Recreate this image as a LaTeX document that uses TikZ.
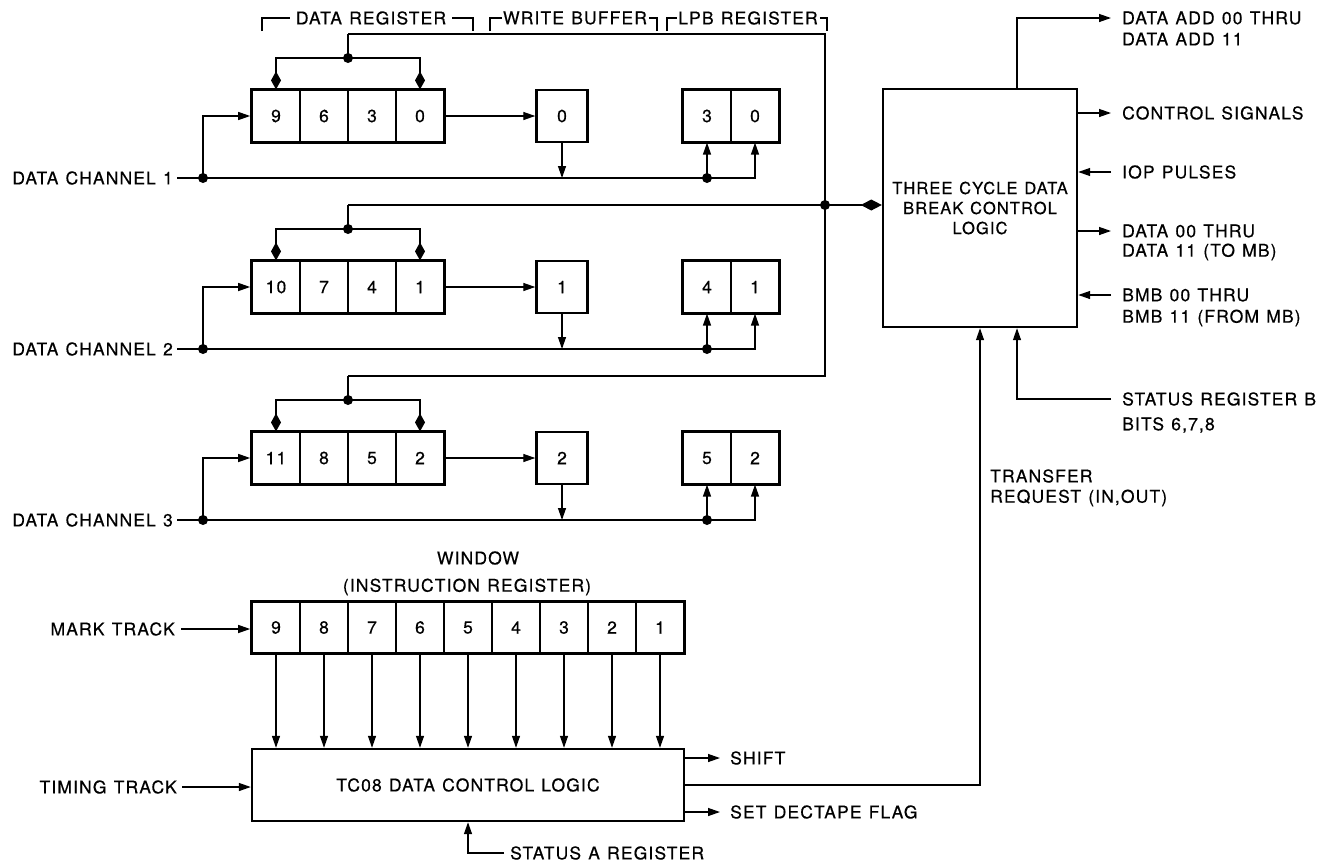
\documentclass[tikz,border=0pt]{standalone}
\usepackage{fontspec}
\setmainfont{TeX Gyre Heros}[LetterSpace=6.5,WordSpace=1.2,FakeBold=0.5]
\usetikzlibrary{arrows.meta,fit}
\begin{document}
\begin{tikzpicture}[x=1pt,y=-1pt,
  font=\fontsize{17.5}{20}\selectfont,
  cell/.style={draw,line width=1.2pt,minimum width=48pt,minimum height=52pt,inner sep=0pt},
  frame/.style={draw,line width=2.4pt,inner sep=0pt},
  wire/.style={line width=1.3pt},
  arr/.style={wire,-{Triangle[length=12pt,width=8pt]}},
  dia/.style={wire,-{Diamond[length=18pt,width=10pt]}},
  bigdia/.style={wire,-{Diamond[length=21pt,width=11pt]}},
  lbl/.style={inner sep=0pt},
  dot/.style={circle,fill,inner sep=0pt,minimum size=10pt},
]
\useasboundingbox (0,0) rectangle (1319,865);

% ---------- header brackets ----------
\node[lbl] (hdr) at (371,18) {DATA REGISTER};
\node[lbl] (hwb) at (575,18) {WRITE BUFFER};
\node[lbl] (hlp) at (748,18) {LPB REGISTER};
\coordinate (hdrL) at (262,31); \coordinate (hdrR) at (473,31);
\coordinate (hwbL) at (490,31); \coordinate (hwbR) at (657,31);
\coordinate (hlpL) at (667,31); \coordinate (hlpR) at (827,31);
\draw[wire] (hdrL) |- ([xshift=-6pt]hdr.west);
\draw[wire] ([xshift=6pt]hdr.east) -| (hdrR);
\draw[wire] (hwbL) |- ([xshift=-1pt]hwb.west);
\draw[wire] ([xshift=2pt]hwb.east) -| (hwbR);
\draw[wire] (hlpL) |- ([xshift=-1pt]hlp.west);
\draw[wire] ([xshift=2pt]hlp.east) -| (hlpR);

% ---------- three cycle data break control logic ----------
\node[frame,minimum width=194pt,minimum height=238pt,align=center,
  font=\fontsize{16.5}{20}\selectfont] (cb) at (980,208)
  {THREE CYCLE DATA\\BREAK CONTROL\\LOGIC};

% ---------- data channels ----------
\foreach \k/\a/\b/\c/\d/\yc in {1/9/6/3/0/116, 2/10/7/4/1/287, 3/11/8/5/2/458}{
  \node[cell] (r\k a) at (276,\yc) {\a};
  \node[cell] (r\k b) at (324,\yc) {\b};
  \node[cell] (r\k c) at (372,\yc) {\c};
  \node[cell] (r\k d) at (420,\yc) {\d};
  \node[frame,fit=(r\k a)(r\k d)] (r\k) {};
  \node[cell,line width=2.4pt,minimum width=51pt] (w\k) at (562,\yc) {\d};
  \node[cell] (l\k a) at (707,\yc) {\c};
  \node[cell] (l\k b) at (755,\yc) {\d};
  \node[frame,fit=(l\k a)(l\k b)] (l\k) {};
  \node[lbl,anchor=east] (dc\k) at (173,\yc+62) {DATA CHANNEL \k};
  \node[dot] (p\k) at (203,\yc+62) {};
  \coordinate (q\k) at (562,\yc+62);
  \node[dot] (s\k) at (707,\yc+62) {};
  \draw[arr] ([xshift=4pt]dc\k.east) -- (p\k.center) -- (s\k.center) -| (l\k b.south);
  \draw[arr] (s\k.center) -- (l\k a.south);
  \draw[arr] (p\k.center) |- (r\k.west);
  \draw[arr] (w\k.south) -- (q\k);
  \draw[arr] (r\k.east) -- (w\k.west);
  \node[dot] (tm\k) at (348,\yc-58) {};
  \draw[dia] (tm\k.center) -| (r\k a.north);
  \draw[dia] (tm\k.center) -| (r\k d.north);
  \coordinate (u\k) at (348,\yc-82);
  \draw[wire] (tm\k.center) -- (u\k);
}
\coordinate (v3) at (825,376);
\node[dot] (v2) at (825,205) {};
\draw[wire] (u1) -| (v3) -- (u3);
\draw[wire] (u2) -- (v2.center);
\draw[bigdia] (v2.center) -- (v2 -| cb.west);

% ---------- right side signals ----------
\node[lbl,anchor=west] (da1) at (1122,18) {DATA ADD 00 THRU};
\node[lbl,anchor=west] (da2) at (1122,39) {DATA ADD 11};
\draw[arr] ([xshift=37pt]cb.north) |- ([xshift=-11pt]da1.west);
\node[lbl,anchor=west] (cs) at (1122,113) {CONTROL SIGNALS};
\draw[arr] (cb.east |- cs) -- ([xshift=-11pt]cs.west);
\node[lbl,anchor=west] (iop) at (1122,172) {IOP PULSES};
\draw[arr] ([xshift=-11pt]iop.west) -- (cb.east |- iop);
\node[lbl,anchor=west] (dd1) at (1122,231) {DATA 00 THRU};
\node[lbl,anchor=west] (dd2) at (1122,252) {DATA 11 (TO MB)};
\draw[arr] (cb.east |- dd1) -- ([xshift=-11pt]dd1.west);
\node[lbl,anchor=west] (bm1) at (1122,295) {BMB 00 THRU};
\node[lbl,anchor=west] (bm2) at (1122,318) {BMB 11 (FROM MB)};
\draw[arr] ([xshift=-11pt]bm1.west) -- (cb.east |- bm1);
\node[lbl,anchor=west] (sb1) at (1122,399) {STATUS REGISTER B};
\node[lbl,anchor=west] (sb2) at (1122,425) {BITS 6,7,8};
\draw[arr] ([xshift=-11pt]sb1.west) -| ([xshift=37pt]cb.south);
\node[lbl,anchor=west] (tr1) at (990,476) {TRANSFER};
\node[lbl,anchor=west] (tr2) at (990,498) {REQUEST (IN,OUT)};

% ---------- window ----------
\node[lbl] (wt1) at (478,558) {WINDOW};
\node[lbl] (wt2) at (467,587) {(INSTRUCTION REGISTER)};
\foreach \i/\n in {1/9,2/8,3/7,4/6,5/5,6/4,7/3,8/2,9/1}{
  \node[cell,minimum height=51pt] (wc\i) at (228+48*\i,627.5) {\n};
}
\node[frame,fit=(wc1)(wc9)] (win) {};
\node[lbl,anchor=east] (mt) at (175,629) {MARK TRACK};
\draw[arr] ([xshift=6pt]mt.east) -- (mt.east -| win.west);

% ---------- TC08 logic ----------
\node[frame,minimum width=432pt,minimum height=72pt] (tc) at (468,785) {TC08 DATA CONTROL LOGIC};
\foreach \i in {1,...,9}{
  \draw[arr] (wc\i.south) -- (wc\i.south |- tc.north);
}
\node[lbl,anchor=east] (tt) at (177,787) {TIMING TRACK};
\draw[arr] ([xshift=5pt]tt.east) -- (tt.east -| tc.west);
\node[lbl,anchor=west] (sh) at (730,758) {SHIFT};
\draw[arr] (tc.east |- sh) -- ([xshift=-10pt]sh.west);
\node[lbl,anchor=west] (sd) at (730,812) {SET DECTAPE FLAG};
\draw[arr] (tc.east |- sd) -- ([xshift=-10pt]sd.west);
\draw[arr] (tc.east) -| (cb.south);
\node[lbl,anchor=west] (sa) at (510,853) {STATUS A REGISTER};
\draw[arr] ([xshift=-6pt]sa.west) -| (tc.south);
\end{tikzpicture}
\end{document}
